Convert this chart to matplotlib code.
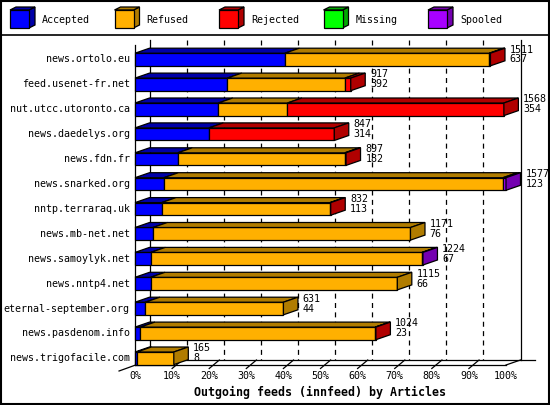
import matplotlib
matplotlib.use("Agg")
import matplotlib.pyplot as plt
from matplotlib.patches import Rectangle, Polygon

# data (articles per outgoing feed)
hosts = ["news.ortolo.eu", "feed.usenet-fr.net", "nut.utcc.utoronto.ca",
         "news.daedelys.org", "news.fdn.fr", "news.snarked.org",
         "nntp.terraraq.uk", "news.mb-net.net", "news.samoylyk.net",
         "news.nntp4.net", "eternal-september.org", "news.pasdenom.info",
         "news.trigofacile.com"]
offered = [1511, 917, 1568, 847, 897, 1577, 832, 1171, 1224, 1115, 631, 1024, 165]
accepted = [637, 392, 354, 314, 182, 123, 113, 76, 67, 66, 44, 23, 8]
refused = [869, 500, 294, 0, 710, 1441, 716, 1095, 1153, 1049, 587, 998, 157]
rejected = [5, 25, 920, 533, 5, 0, 3, 0, 0, 0, 0, 3, 0]
missing = [0, 0, 0, 0, 0, 0, 0, 0, 0, 0, 0, 0, 0]
spooled = [0, 0, 0, 0, 0, 13, 0, 0, 4, 0, 0, 0, 0]

series = ["Accepted", "Refused", "Rejected", "Missing", "Spooled"]
front_cols = ["#0000ff", "#ffb000", "#ff0000", "#00ff00", "#a800ff"]
side_cols = ["#0000a8", "#b07c00", "#b00000", "#00a800", "#7400b0"]
values = [accepted, refused, rejected, missing, spooled]
pct_ticks = list(range(0, 101, 10))

# layout in pixels
W, H = 550, 405
PX0, PXPCT = 135, 3.71      # front 0% and pixels per percent
ROW0, ROWH = 59.5, 24.9     # first row centre and row spacing
DX = 14.5 / PXPCT           # depth offset
DY = -5 / ROWH
HALF = 6.3 / ROWH

fig = plt.figure(figsize=(W / 100, H / 100), dpi=100)
ax = fig.add_axes([0, 0, 1, 1])
ax.set_xlim(-PX0 / PXPCT, (W - PX0) / PXPCT)
ax.set_ylim((H - ROW0) / ROWH, -ROW0 / ROWH)
ax.axis("off")

plt.rcParams["font.family"] = "DejaVu Sans Mono"
fs = 7.2
lw = 0.9

top = (40 - ROW0) / ROWH
floor_back = (360 - ROW0) / ROWH
floor_front = (365 - ROW0) / ROWH

# back plane grid
for p in pct_ticks:
    style = "-" if p in (0, 100) else (0, (4, 3.5))
    ax.plot([p + DX, p + DX], [top, floor_back], color="black", lw=lw,
            linestyle=style, zorder=1)
ax.plot([0, 0], [top - DY, floor_front], color="black", lw=lw, zorder=1)
ax.plot([DX, 100 + DX + 4], [floor_back, floor_back], color="black", lw=lw, zorder=1)
ax.plot([0, 100], [floor_front, floor_front], color="black", lw=lw, zorder=1)
ax.plot([DX, -DX * 1.1], [floor_back, floor_front - DY * 1.2], color="black", lw=lw, zorder=1)
ax.plot([100, 100 + DX], [floor_front, floor_back], color="black", lw=lw, zorder=1)
for p in pct_ticks[1:-1]:
    ax.plot([p, p + DX * 0.7], [floor_front - DY * 0.7, floor_back], color="black",
            lw=lw, zorder=1)
for p in pct_ticks:
    ax.text(p, floor_front - DY * 2.2, f"{p}%", fontsize=fs, ha="center", va="center")

scale = max(offered)
for i, host in enumerate(hosts):
    left = 0.0
    last = None
    for k in range(len(series)):
        w = values[k][i] / scale * 100
        if w <= 0:
            continue
        ax.add_patch(Rectangle((left, i - HALF), w, 2 * HALF, facecolor=front_cols[k],
                               edgecolor="black", lw=lw, zorder=3))
        ax.add_patch(Polygon([(left, i - HALF), (left + w, i - HALF),
                              (left + w + DX, i - HALF + DY), (left + DX, i - HALF + DY)],
                             closed=True, facecolor=side_cols[k], edgecolor="black",
                             lw=lw, zorder=3))
        left += w
        last = k
    ax.add_patch(Polygon([(left, i - HALF), (left + DX, i - HALF + DY),
                          (left + DX, i + HALF + DY), (left, i + HALF)],
                         closed=True, facecolor=side_cols[last], edgecolor="black",
                         lw=lw, zorder=3))
    ax.text(-1.4, i, host, fontsize=fs, ha="right", va="center")
    tx = left + DX + 1.3
    ax.text(tx, i - 0.4, str(offered[i]), fontsize=fs, ha="left", va="center", zorder=4)
    ax.text(tx, i, str(accepted[i]), fontsize=fs, ha="left", va="center", zorder=4)

ax.text(50, (392 - ROW0) / ROWH, "Outgoing feeds (innfeed) by Articles",
        fontsize=8.4, fontweight="bold", ha="center", va="center")

# legend strip and frame, in pixel coordinates
lax = fig.add_axes([0, 0, 1, 1], facecolor="none")
lax.set_xlim(0, W)
lax.set_ylim(H, 0)
lax.axis("off")
lax.plot([0, W], [35, 35], color="black", lw=1.2)
lax.add_patch(Rectangle((0.5, 0.5), W - 1.5, H - 1.5, fill=False, edgecolor="black", lw=1.5))
for k, name in enumerate(series):
    x0 = 10 + k * 104.5
    d = 6
    lax.add_patch(Polygon([(x0 + 19, 10), (x0 + 19 + d, 7), (x0 + 19 + d, 25),
                           (x0 + 19, 28)], closed=True, facecolor=side_cols[k],
                          edgecolor="black", lw=lw))
    lax.add_patch(Polygon([(x0, 10), (x0 + d, 7), (x0 + 19 + d, 7), (x0 + 19, 10)],
                          closed=True, facecolor=side_cols[k], edgecolor="black", lw=lw))
    lax.add_patch(Rectangle((x0, 10), 19, 18, facecolor=front_cols[k],
                            edgecolor="black", lw=lw))
    lax.text(x0 + 32, 20, name, fontsize=fs, ha="left", va="center")

fig.savefig("out.png", dpi=100)
